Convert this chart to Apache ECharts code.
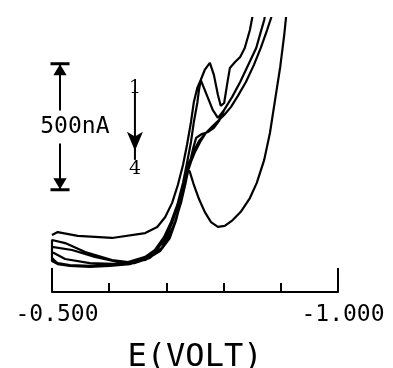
<!DOCTYPE html>
<html>
<head>
<meta charset="utf-8">
<script src="https://cdn.jsdelivr.net/npm/echarts@6/dist/echarts.min.js"></script>
<style>
  html, body { margin: 0; padding: 0; background: #fff; }
  #main { width: 393px; height: 368px; }
</style>
</head>
<body>
<div id="main"></div>
<script>
// E (V) vs current (nA), cycles 1..4
var cycle1Fwd = [[-0.500,223],[-0.510,234],[-0.545,219],[-0.605,211],[-0.663,230],[-0.684,254],[-0.698,293],[-0.710,348],[-0.720,418],[-0.729,496],[-0.736,574],[-0.743,664],[-0.748,742],[-0.754,797],[-0.760,828],[-0.767,867],[-0.776,895],[-0.783,848],[-0.790,770],[-0.795,727],[-0.801,738],[-0.806,809],[-0.811,875],[-0.820,898],[-0.829,918],[-0.837,953],[-0.846,1023],[-0.851,1082],[-0.855,1121]];
var cycle1Rev = [[-0.888,1121],[-0.883,1070],[-0.876,1023],[-0.865,953],[-0.853,887],[-0.839,820],[-0.825,766],[-0.813,723],[-0.801,691],[-0.792,672],[-0.781,648],[-0.769,621],[-0.759,590],[-0.750,551],[-0.743,512],[-0.736,465],[-0.729,406],[-0.720,340],[-0.710,273],[-0.698,215],[-0.682,164],[-0.663,133],[-0.636,113],[-0.601,105],[-0.566,102],[-0.531,105],[-0.510,113],[-0.500,125]];
var cycle2Fwd = [[-0.500,203],[-0.523,191],[-0.558,156],[-0.605,125],[-0.633,117],[-0.663,137],[-0.685,172],[-0.698,203],[-0.710,273],[-0.720,348],[-0.729,426],[-0.736,504],[-0.743,586],[-0.748,664],[-0.754,738],[-0.757,789],[-0.760,828],[-0.767,789],[-0.774,750],[-0.781,711],[-0.790,680],[-0.801,711],[-0.815,762],[-0.829,820],[-0.844,891],[-0.857,953],[-0.865,1016],[-0.871,1062],[-0.874,1102],[-0.876,1129]];
var cycle2Rev = [[-0.888,1121],[-0.883,1070],[-0.876,1023],[-0.865,953],[-0.853,887],[-0.839,820],[-0.825,766],[-0.813,723],[-0.801,691],[-0.792,672],[-0.781,648],[-0.769,621],[-0.757,590],[-0.748,551],[-0.741,512],[-0.734,465],[-0.727,406],[-0.719,340],[-0.708,273],[-0.696,215],[-0.680,164],[-0.661,133],[-0.633,109],[-0.598,102],[-0.563,102],[-0.528,105],[-0.509,113],[-0.500,133]];
var cycle3Fwd = [[-0.500,176],[-0.535,164],[-0.575,137],[-0.615,117],[-0.645,113],[-0.671,133],[-0.692,172],[-0.703,211],[-0.715,273],[-0.726,352],[-0.734,430],[-0.741,504],[-0.747,563],[-0.752,602],[-0.762,617],[-0.773,625],[-0.783,641],[-0.792,668],[-0.801,711],[-0.815,762],[-0.829,820],[-0.844,891],[-0.857,953],[-0.865,1016],[-0.871,1062],[-0.874,1102],[-0.876,1129]];
var cycle3Rev = [[-0.888,1121],[-0.883,1070],[-0.876,1023],[-0.865,953],[-0.853,887],[-0.839,820],[-0.825,766],[-0.813,723],[-0.801,691],[-0.792,672],[-0.781,648],[-0.769,621],[-0.759,586],[-0.750,547],[-0.743,508],[-0.736,461],[-0.729,402],[-0.720,336],[-0.710,270],[-0.698,211],[-0.682,160],[-0.663,129],[-0.636,109],[-0.601,102],[-0.566,98],[-0.531,102],[-0.510,109],[-0.500,121]];
var cycle4Fwd = [[-0.500,156],[-0.523,129],[-0.566,113],[-0.619,109],[-0.663,125],[-0.689,160],[-0.706,211],[-0.717,281],[-0.726,359],[-0.733,430],[-0.736,488],[-0.741,469],[-0.748,418],[-0.757,363],[-0.767,313],[-0.778,273],[-0.790,254],[-0.802,258],[-0.816,281],[-0.830,313],[-0.846,367],[-0.858,426],[-0.871,516],[-0.881,621],[-0.890,750],[-0.899,879],[-0.906,1004],[-0.909,1070],[-0.911,1121]];

var xTicks = [-1.0, -0.5];
var scaleBar = [-0.514, 395, 895];   // E, low, high (500 nA)
var scanArrow = [-0.645, 789, 516];  // E, from, to
var barNote = [{name: '500nA', value: [-0.540, 644]}];
var cycleNotes = [
    {name: '1', value: [-0.645, 797]},
    {name: '4', value: [-0.645, 480]}
];

var trace = [].concat(cycle1Fwd, cycle1Rev, cycle2Fwd, cycle2Rev, cycle3Fwd, cycle3Rev, cycle4Fwd);

var capPath = 'path://M0,0 H20 V3 H0 Z M10,2 L3,13 H17 Z';

var myChart = echarts.init(document.getElementById('main'));

var option = {
    animation: false,
    backgroundColor: '#fff',
    grid: {left: 52, right: 55, top: 18, bottom: 76, outerBoundsMode: 'none'},
    xAxis: [{
        type: 'value',
        min: xTicks[0],
        max: xTicks[1],
        interval: 0.1,
        inverse: true,
        axisLine: {lineStyle: {color: '#000', width: 2}},
        axisTick: {inside: true, length: 9, lineStyle: {color: '#000', width: 2}},
        axisLabel: {show: false},
        splitLine: {show: false}
    }, {
        type: 'value',
        position: 'bottom',
        min: xTicks[0],
        max: xTicks[1],
        interval: 0.5,
        inverse: true,
        axisLine: {show: false},
        axisTick: {inside: true, length: 24, lineStyle: {color: '#000', width: 2}},
        axisLabel: {
            margin: 12,
            padding: [0, 0, 0, 10],
            color: '#000',
            fontFamily: 'DejaVu Sans Mono',
            fontSize: 23,
            formatter: function (v) { return v.toFixed(3); }
        },
        splitLine: {show: false},
        name: 'E(VOLT)',
        nameLocation: 'middle',
        nameGap: 50,
        nameTextStyle: {color: '#000', fontFamily: 'DejaVu Sans Mono', fontSize: 32}
    }],
    yAxis: {type: 'value', min: 0, max: 1070, show: false},
    series: [{
        name: 'CV',
        type: 'line',
        data: trace,
        showSymbol: false,
        lineStyle: {color: '#000', width: 2.2},
        clip: true
    }, {
        name: 'scale',
        type: 'line',
        data: [
            {value: [scaleBar[0], scaleBar[2]], symbol: capPath, symbolSize: [19, 13], symbolOffset: [0, 6]},
            {value: [scaleBar[0], scaleBar[1]], symbol: capPath, symbolSize: [19, 13], symbolRotate: 180, symbolOffset: [0, -6]}
        ],
        showSymbol: true,
        itemStyle: {color: '#000'},
        lineStyle: {color: '#000', width: 2}
    }, {
        name: 'arrow',
        type: 'line',
        data: [
            {value: [scanArrow[0], scanArrow[1]], symbol: 'none'},
            {value: [scanArrow[0], scanArrow[2]], symbol: 'arrow', symbolSize: [12, 19], symbolRotate: 180, symbolOffset: [0, -9]}
        ],
        itemStyle: {color: '#000'},
        lineStyle: {color: '#000', width: 2}
    }, {
        name: 'barNote',
        type: 'scatter',
        z: 5,
        data: barNote,
        symbolSize: 0,
        itemStyle: {opacity: 1},
        label: {
            show: true,
            position: 'inside',
            formatter: '{b}',
            color: '#000',
            fontFamily: 'DejaVu Sans Mono',
            fontSize: 23,
            backgroundColor: '#fff',
            padding: [5, 1]
        }
    }, {
        name: 'cycleNotes',
        type: 'scatter',
        z: 5,
        data: cycleNotes,
        symbolSize: 0,
        itemStyle: {opacity: 1},
        label: {
            show: true,
            position: 'inside',
            formatter: '{b}',
            color: '#000',
            fontFamily: 'DejaVu Serif',
            fontSize: 19
        }
    }]
};

myChart.setOption(option);
</script>
</body>
</html>
